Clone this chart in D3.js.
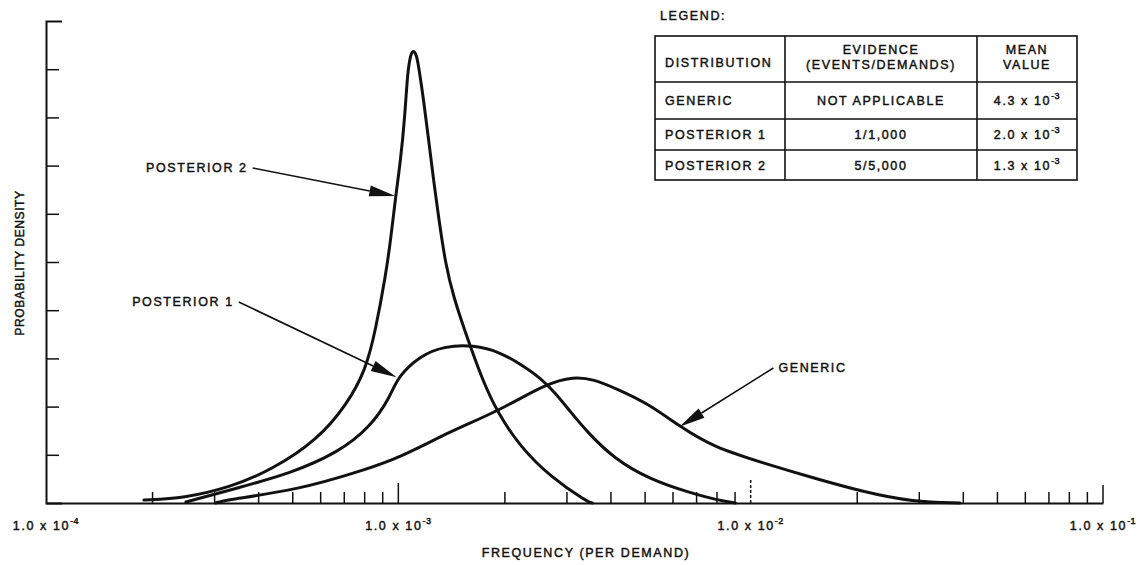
<!DOCTYPE html>
<html><head><meta charset="utf-8">
<script src="https://cdn.jsdelivr.net/npm/d3@7"></script>
<style>
body{margin:0;background:#fff}
svg{display:block;background:#fff}
text{font-family:"Liberation Sans",Arial,Helvetica,sans-serif;fill:#111;stroke:#111;stroke-width:0.45px;font-size:12.5px;letter-spacing:1.6px}
</style>
</head><body>
<svg id="chart" width="1138" height="565"></svg>
<script>
// ---------- DATA ----------
// frequency (per demand) and relative probability density (arbitrary units, axis 0..10)
const genericFreq = [3.03e-4, 3.20e-4, 5.18e-4, 7.97e-4, 1.015e-3, 1.408e-3, 1.913e-3, 2.651e-3, 3.142e-3, 3.580e-3, 4.188e-3, 5.093e-3, 6.318e-3, 7.836e-3, 1.086e-2, 1.505e-2, 2.088e-2, 2.892e-2, 3.929e-2];
const genericDens = [0, 0.06, 0.27, 0.68, 0.95, 1.49, 1.90, 2.49, 2.62, 2.57, 2.36, 2.07, 1.58, 1.16, 0.83, 0.52, 0.23, 0.02, 0];

const post1Freq = [2.495e-4, 3.572e-4, 4.951e-4, 6.729e-4, 8.35e-4, 9.51e-4, 9.96e-4, 1.157e-3, 1.344e-3, 1.635e-3, 1.950e-3, 2.266e-3, 2.533e-3, 2.793e-3, 3.081e-3, 3.441e-3, 4.079e-3, 5.194e-3, 6.746e-3, 8.04e-3, 9.05e-3];
const post1Dens = [0.02, 0.33, 0.62, 1.04, 1.58, 2.22, 2.62, 3.06, 3.25, 3.28, 3.13, 2.84, 2.59, 2.28, 1.89, 1.47, 0.93, 0.48, 0.21, 0.06, 0];

const post2Freq = [1.896e-4, 2.461e-4, 3.346e-4, 4.345e-4, 5.905e-4, 7.183e-4, 8.08e-4, 8.62e-4, 9.21e-4, 9.51e-4, 9.83e-4, 1.015e-3, 1.042e-3, 1.063e-3, 1.084e-3, 1.100e-3, 1.127e-3, 1.142e-3, 1.180e-3, 1.219e-3, 1.259e-3, 1.301e-3, 1.362e-3, 1.435e-3, 1.552e-3, 1.603e-3, 1.734e-3, 1.913e-3, 2.222e-3, 2.703e-3, 3.441e-3, 3.556e-3];
const post2Dens = [0.06, 0.10, 0.33, 0.68, 1.31, 2.07, 2.76, 3.59, 4.73, 5.46, 6.37, 7.12, 7.95, 8.98, 9.30, 9.40, 9.30, 9.05, 8.36, 7.53, 6.70, 5.93, 4.94, 4.27, 3.53, 3.24, 2.55, 1.87, 1.16, 0.54, 0.02, 0];

// axis
const xDomain = [1e-4, 1e-1];
const yDomain = [0, 10];
const xMajorTicks = [1e-4, 1e-3, 1e-2, 1e-1];
const xTickMantissa = ["1.0 x 10", "1.0 x 10", "1.0 x 10", "1.0 x 10"];
const xTickExponent = ["-4", "-3", "-2", "-1"];
const yTickValues = [1, 2, 3, 4, 5, 6, 7, 8, 9];
const xAxisTitle = "FREQUENCY (PER DEMAND)";
const yAxisTitle = "PROBABILITY DENSITY";

// annotations: label, text anchor point (freq, dens), arrow tip (freq, dens)
const annLabels = ["POSTERIOR 2", "POSTERIOR 1", "GENERIC"];
const annFromFreq = [3.86e-4, 3.525e-4, 1.16e-2];
const annFromDens = [6.95, 4.17, 2.80];
const annTipFreq = [9.80e-4, 9.89e-4, 6.28e-3];
const annTipDens = [6.37, 2.61, 1.58];

// legend table
const legendTitle = "LEGEND:";
const legendHeader1 = ["DISTRIBUTION", "EVIDENCE", "MEAN"];
const legendHeader2 = ["", "(EVENTS/DEMANDS)", "VALUE"];
const legendDist = ["GENERIC", "POSTERIOR 1", "POSTERIOR 2"];
const legendEvidence = ["NOT APPLICABLE", "1/1,000", "5/5,000"];
const legendMeanMant = ["4.3 x 10", "2.0 x 10", "1.3 x 10"];
const legendMeanExp = ["-3", "-3", "-3"];

// ---------- CHART ----------
const svg = d3.select("#chart");
const x = d3.scaleLog().domain(xDomain).range([46, 1103]);
const y = d3.scaleLinear().domain(yDomain).range([503, 21]);
const ink = "#111";

// X axis ticks (minor + major)
const minor = [];
[-4, -3, -2].forEach(e => { for (let k = 2; k <= 9; k++) minor.push(k * Math.pow(10, e)); });
const gx = svg.append("g").attr("transform", `translate(0,${y(0)})`)
  .call(d3.axisBottom(x).tickValues(minor).tickSize(-11).tickSizeOuter(0).tickFormat(""));
gx.select(".domain").attr("stroke", ink).attr("stroke-width", 2);
gx.selectAll(".tick line").attr("stroke", ink).attr("stroke-width", 1.5);

const majorHeights = [0, 20, 24, 18];
const majorDash = [null, null, "3,2", null];
xMajorTicks.forEach((v, i) => {
  if (!majorHeights[i]) return;
  svg.append("line").attr("x1", x(v)).attr("x2", x(v))
    .attr("y1", y(0)).attr("y2", y(0) - majorHeights[i])
    .attr("stroke", ink).attr("stroke-width", 1.5)
    .attr("stroke-dasharray", majorDash[i]);
});

// X tick labels
xMajorTicks.forEach((v, i) => {
  const t = svg.append("text").attr("x", x(v)).attr("y", 530).attr("text-anchor", "middle");
  t.append("tspan").text(xTickMantissa[i]);
  t.append("tspan").attr("dy", -6).attr("font-size", "9px").style("letter-spacing", "0.5px").text(xTickExponent[i]);
});

// Y axis
const gy = svg.append("g").attr("transform", `translate(${x(1e-4)},0)`)
  .call(d3.axisRight(y).tickValues(yTickValues).tickSize(13).tickSizeOuter(16).tickFormat(""));
gy.select(".domain").attr("stroke", ink).attr("stroke-width", 2).attr("fill", "none");
gy.selectAll(".tick line").attr("stroke", ink).attr("stroke-width", 1.5);

// axis titles
svg.append("text").attr("x", 586).attr("y", 557).attr("text-anchor", "middle").text(xAxisTitle);
svg.append("text").attr("transform", "translate(24,263) rotate(-90)")
  .attr("text-anchor", "middle").style("font-size", "12px").style("letter-spacing", "0.6px").text(yAxisTitle);

// curves
const line = d3.line().x(d => x(d[0])).y(d => y(d[1])).curve(d3.curveBasis);
const series = [
  [genericFreq, genericDens],
  [post1Freq, post1Dens],
  [post2Freq, post2Dens]
];
series.forEach(([f, dd]) => {
  svg.append("path").datum(f.map((v, i) => [v, dd[i]]))
    .attr("d", line).attr("fill", "none").attr("stroke", ink)
    .attr("stroke-width", 3).attr("stroke-linejoin", "round").attr("stroke-linecap", "round");
});

// annotations
annLabels.forEach((lab, i) => {
  const x0 = x(annFromFreq[i]), y0 = y(annFromDens[i]);
  const x1 = x(annTipFreq[i]), y1 = y(annTipDens[i]);
  const dx = x1 - x0, dy = y1 - y0, L = Math.hypot(dx, dy);
  const ux = dx / L, uy = dy / L;
  const hl = 26, hw = 5.5;
  const bx = x1 - ux * hl, by = y1 - uy * hl;
  svg.append("line").attr("x1", x0).attr("y1", y0).attr("x2", bx).attr("y2", by)
    .attr("stroke", ink).attr("stroke-width", 1.6);
  svg.append("path").attr("d", `M${x1},${y1}L${bx - uy * hw},${by + ux * hw}L${bx + uy * hw},${by - ux * hw}Z`)
    .attr("fill", ink);
  const left = dx > 0;
  svg.append("text").attr("x", left ? x0 - 5 : x0 + 5).attr("y", y0 + 4)
    .attr("text-anchor", left ? "end" : "start").text(lab);
});

// legend
svg.append("text").attr("x", 660).attr("y", 20).text(legendTitle);
const colX = [655, 785, 977, 1077];
const rowY = [36, 82, 119, 150, 180];
const lg = svg.append("g").attr("stroke", ink).attr("stroke-width", 1.6);
lg.append("rect").attr("x", colX[0]).attr("y", rowY[0]).attr("width", colX[3] - colX[0]).attr("height", rowY[4] - rowY[0]).attr("fill", "none");
[1, 2].forEach(i => lg.append("line").attr("x1", colX[i]).attr("x2", colX[i]).attr("y1", rowY[0]).attr("y2", rowY[4]));
[1, 2, 3].forEach(i => lg.append("line").attr("x1", colX[0]).attr("x2", colX[3]).attr("y1", rowY[i]).attr("y2", rowY[i]));

const c2 = (colX[1] + colX[2]) / 2, c3 = (colX[2] + colX[3]) / 2;
svg.append("text").attr("x", 665).attr("y", 67).text(legendHeader1[0]);
svg.append("text").attr("x", c2).attr("y", 54).attr("text-anchor", "middle").text(legendHeader1[1]);
svg.append("text").attr("x", c2).attr("y", 69).attr("text-anchor", "middle").text(legendHeader2[1]);
svg.append("text").attr("x", c3).attr("y", 54).attr("text-anchor", "middle").text(legendHeader1[2]);
svg.append("text").attr("x", c3).attr("y", 69).attr("text-anchor", "middle").text(legendHeader2[2]);
legendDist.forEach((d, i) => {
  const yy = (rowY[i + 1] + rowY[i + 2]) / 2 + 4.5;
  svg.append("text").attr("x", 665).attr("y", yy).text(d);
  svg.append("text").attr("x", c2).attr("y", yy).attr("text-anchor", "middle").text(legendEvidence[i]);
  const t = svg.append("text").attr("x", c3).attr("y", yy).attr("text-anchor", "middle");
  t.append("tspan").text(legendMeanMant[i]);
  t.append("tspan").attr("dy", -6).attr("font-size", "9px").style("letter-spacing", "0.5px").text(legendMeanExp[i]);
});
</script>
</body></html>
